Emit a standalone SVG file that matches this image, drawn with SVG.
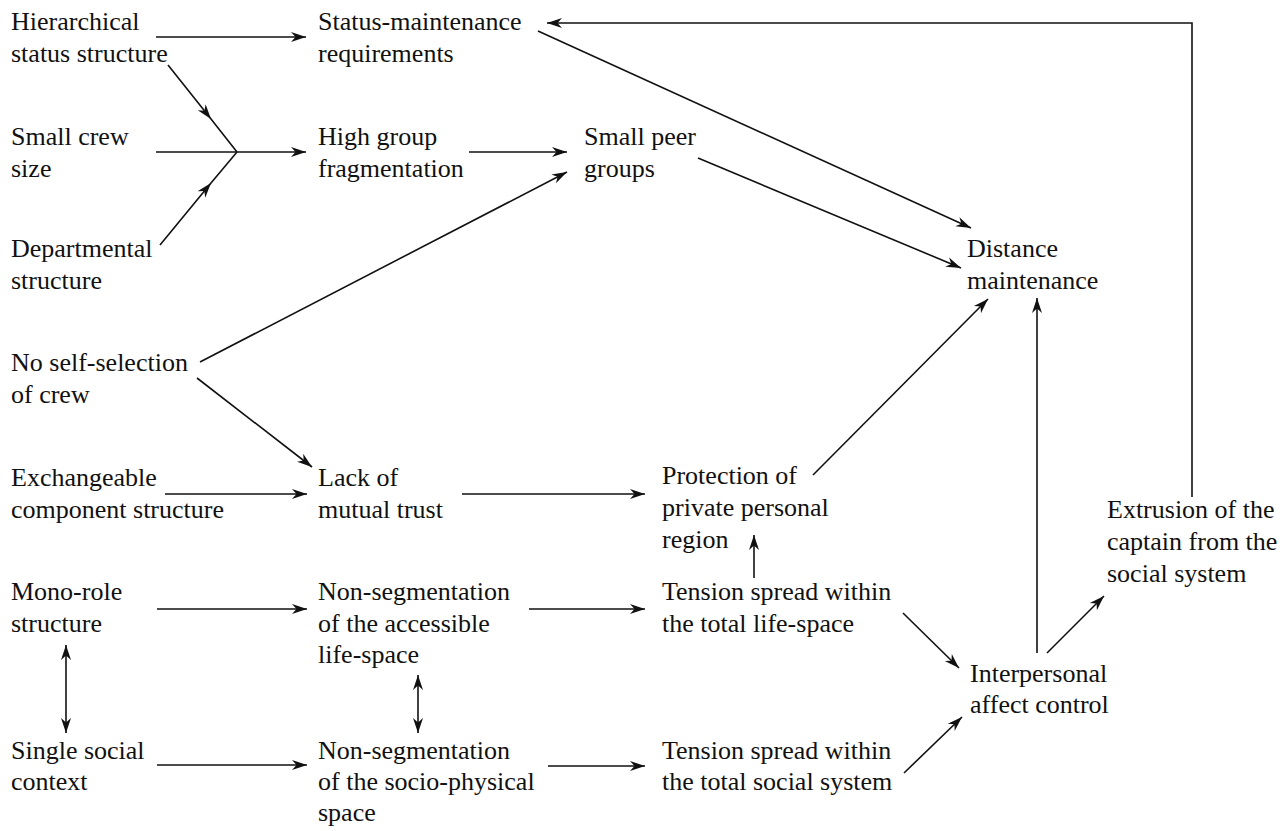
<svg xmlns="http://www.w3.org/2000/svg" width="1288" height="831" viewBox="0 0 1288 831">
<style>
text{font-family:"Liberation Serif","Times New Roman",serif;font-size:26px;fill:#111}
.c path,.c line{stroke:#111;stroke-width:1.6;fill:none}
.a{marker-end:url(#ah)}
.m{marker-mid:url(#ah)}
.b{marker-start:url(#ah);marker-end:url(#ah)}
</style>
<defs>
<marker id="ah" viewBox="-15 -6 16 12" refX="0" refY="0" markerWidth="16" markerHeight="12" markerUnits="userSpaceOnUse" orient="auto-start-reverse">
<path d="M0,0 L-15,-5 L-10.5,0 L-15,5 Z" fill="#111"/>
</marker>
</defs>
<rect width="1288" height="831" fill="#fff"/>
<g id="n1"><text x="11" y="30">Hierarchical</text><text x="11" y="62">status structure</text></g>
<g id="n2"><text x="11" y="145">Small crew</text><text x="11" y="177">size</text></g>
<g id="n3"><text x="11" y="257">Departmental</text><text x="11" y="289">structure</text></g>
<g id="n4"><text x="11" y="371">No self-selection</text><text x="11" y="403">of crew</text></g>
<g id="n5"><text x="11" y="486">Exchangeable</text><text x="11" y="518">component structure</text></g>
<g id="n6"><text x="11" y="600">Mono-role</text><text x="11" y="632">structure</text></g>
<g id="n7"><text x="11" y="759">Single social</text><text x="11" y="790">context</text></g>
<g id="n8"><text x="318" y="30">Status-maintenance</text><text x="318" y="62">requirements</text></g>
<g id="n9"><text x="318" y="145">High group</text><text x="318" y="177">fragmentation</text></g>
<g id="n10"><text x="318" y="486">Lack of</text><text x="318" y="518">mutual trust</text></g>
<g id="n11"><text x="318" y="600">Non-segmentation</text><text x="318" y="632">of the accessible</text><text x="318" y="663">life-space</text></g>
<g id="n12"><text x="318" y="759">Non-segmentation</text><text x="318" y="790">of the socio-physical</text><text x="318" y="821">space</text></g>
<g id="n13"><text x="584" y="145">Small peer</text><text x="584" y="177">groups</text></g>
<g id="n14"><text x="662" y="484">Protection of</text><text x="662" y="516">private personal</text><text x="662" y="548">region</text></g>
<g id="n15"><text x="662" y="600">Tension spread within</text><text x="662" y="632">the total life-space</text></g>
<g id="n16"><text x="662" y="759">Tension spread within</text><text x="662" y="790">the total social system</text></g>
<g id="n17"><text x="967" y="257">Distance</text><text x="967" y="289">maintenance</text></g>
<g id="n18"><text x="970" y="682">Interpersonal</text><text x="970" y="713">affect control</text></g>
<g id="n19"><text x="1107" y="518">Extrusion of the</text><text x="1107" y="550">captain from the</text><text x="1107" y="582">social system</text></g>
<g id="connectors" class="c">
<path class="a" d="M156,37 H306"/>
<path class="m" d="M168,65 L211,119 L237,152"/>
<path class="a" d="M156,152 H306"/>
<path class="m" d="M160,245 L211,183 L237,152"/>
<path class="a" d="M469,152 H567"/>
<path class="a" d="M200,362 L567,172"/>
<path class="a" d="M538,31 L971,228"/>
<path class="a" d="M698,158 L961,268"/>
<path class="a" d="M197,378 L312,467"/>
<path class="a" d="M165,494 H307"/>
<path class="a" d="M462,494 H645"/>
<path class="a" d="M813,475 L988,299"/>
<path class="a" d="M157,609 H307"/>
<path class="a" d="M529,609 H645"/>
<path class="b" d="M66,645 V733"/>
<path class="b" d="M418,675 V733"/>
<path class="a" d="M157,765 H307"/>
<path class="a" d="M548,766 H645"/>
<path class="a" d="M754,578 V535"/>
<path class="a" d="M903,613 L959,668"/>
<path class="a" d="M904,773 L962,717"/>
<path class="a" d="M1037,653 V298"/>
<path class="a" d="M1047,653 L1104,596"/>
<path class="a" d="M1192,497 V23 H547"/>
</g>
</svg>
